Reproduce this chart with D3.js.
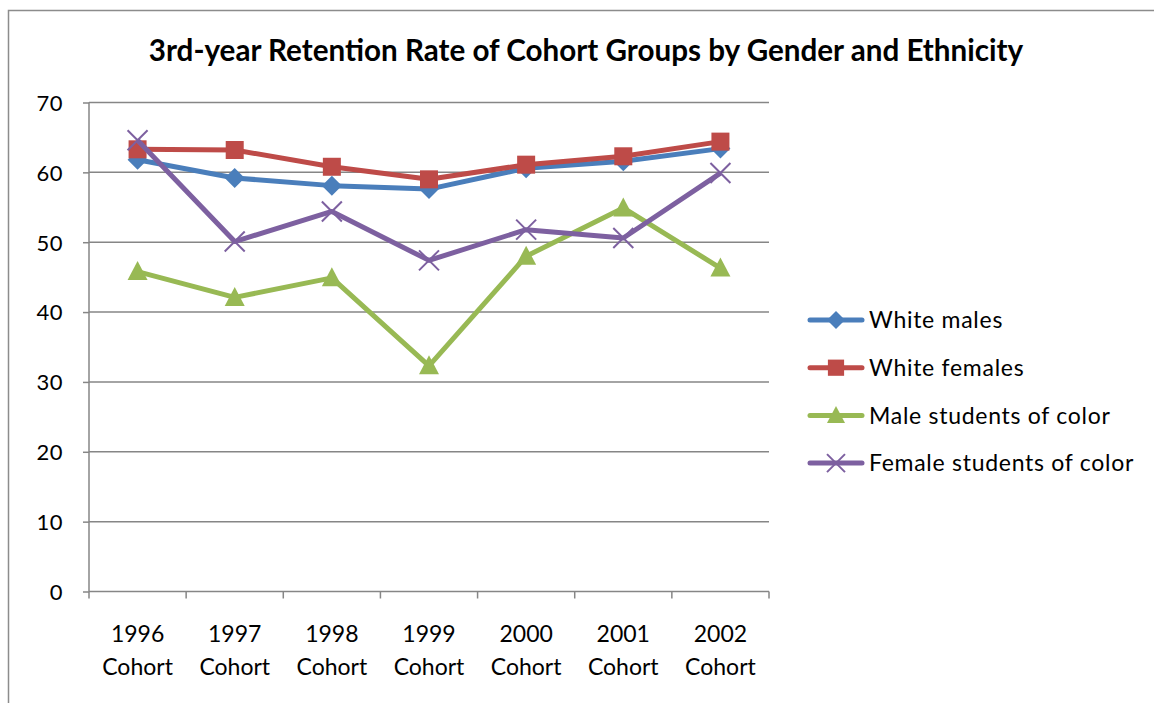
<!DOCTYPE html>
<html>
<head>
<meta charset="utf-8">
<script src="https://cdn.jsdelivr.net/npm/d3@7"></script>
<style>
  body { margin: 0; background: #fff; }
  text { font-family: Lato, "Noto Sans", sans-serif; fill: #000; }
  .grid line { stroke: #868686; stroke-width: 1.5; }
  .axis path, .axis line { stroke: #868686; stroke-width: 1.5; }
</style>
</head>
<body>
<div id="chart"></div>
<script>
// data
const cohorts = ["1996", "1997", "1998", "1999", "2000", "2001", "2002"];
const seriesNames = ["White males", "White females", "Male students of color", "Female students of color"];
const whiteMales = [61.8, 59.2, 58.1, 57.6, 60.6, 61.6, 63.4];
const whiteFemales = [63.3, 63.2, 60.8, 59.0, 61.1, 62.3, 64.4];
const maleColor = [45.8, 42.1, 44.9, 32.3, 48.0, 54.9, 46.3];
const femaleColor = [64.6, 50.1, 54.4, 47.4, 51.8, 50.6, 59.9];
const yTicks = [0, 10, 20, 30, 40, 50, 60, 70];

const colors = ["#4A7EBB", "#BE4B48", "#98B954", "#7D60A0"];
const markers = ["diamond", "square", "triangle", "cross"];
const series = seriesNames.map((name, i) => ({
  name, color: colors[i], marker: markers[i],
  values: [whiteMales, whiteFemales, maleColor, femaleColor][i]
}));

const W = 1154, H = 703;
const plot = {left: 89, right: 769, top: 102.5, bottom: 591.5};

const svg = d3.select("#chart").append("svg")
    .attr("width", W).attr("height", H);

// outer frame (only top and left are visible in the reference)
svg.append("path")
    .attr("d", `M8.5,${H} V10.5 H${W}`)
    .attr("fill", "none").attr("stroke", "#8c8c8c").attr("stroke-width", 1.5);

const title = svg.append("text")
    .attr("x", 586).attr("y", 61)
    .attr("text-anchor", "middle")
    .style("font-weight", "bold")
    .style("font-size", "25px")
    .text("3rd-year Retention Rate of Cohort Groups by Gender and Ethnicity");
// squeeze the title to the width it has in the picture
const tl = title.node().getComputedTextLength();
title.style("font-size", (25 * 875 / tl) + "px");

const x = d3.scaleBand().domain(cohorts).range([plot.left, plot.right]);
const y = d3.scaleLinear().domain([0, 70]).range([plot.bottom, plot.top]);

// gridlines
svg.append("g").attr("class", "grid")
  .selectAll("line").data(yTicks.slice(1)).join("line")
    .attr("x1", plot.left).attr("x2", plot.right)
    .attr("y1", d => y(d)).attr("y2", d => y(d));

// y axis
const yAxis = svg.append("g").attr("class", "axis")
    .attr("transform", `translate(${plot.left},0)`)
    .call(d3.axisLeft(y).tickValues(yTicks).tickSize(6).tickPadding(20));
yAxis.select(".domain").attr("d", `M0,${plot.top}V${plot.bottom}`);
yAxis.selectAll("text").style("font-size", "22px").attr("dy", "0.36em")
    .style("letter-spacing", "0.5px");

// x axis: ticks sit on the category boundaries
const xAxis = svg.append("g").attr("class", "axis")
    .attr("transform", `translate(0,${plot.bottom})`);
xAxis.append("line").attr("x1", plot.left).attr("x2", plot.right);
xAxis.selectAll(".tk").data(d3.range(cohorts.length + 1)).join("line")
    .attr("class", "tk")
    .attr("x1", i => plot.left + i * x.step()).attr("x2", i => plot.left + i * x.step())
    .attr("y1", 0).attr("y2", 7);
const xl = xAxis.selectAll(".lbl").data(cohorts).join("text")
    .attr("class", "lbl")
    .attr("text-anchor", "middle")
    .attr("x", d => x(d) + x.bandwidth() / 2)
    .style("font-size", "23px");
xl.append("tspan").attr("x", d => x(d) + x.bandwidth() / 2).attr("y", 50).text(d => d);
xl.append("tspan").attr("x", d => x(d) + x.bandwidth() / 2).attr("y", 83).text("Cohort");

function drawMarker(g, type, color, s) {
  if (type === "diamond") {
    g.append("path").attr("d", `M0,${-s}L${s},0L0,${s}L${-s},0Z`).attr("fill", color);
  } else if (type === "square") {
    g.append("rect").attr("x", -s * 0.9).attr("y", -s * 0.9)
      .attr("width", s * 1.8).attr("height", s * 1.8).attr("fill", color);
  } else if (type === "triangle") {
    g.append("path").attr("d", `M0,${-s * 1.05}L${s},${s * 0.85}L${-s},${s * 0.85}Z`).attr("fill", color);
  } else {
    g.append("path").attr("d", `M${-s},${-s}L${s},${s}M${-s},${s}L${s},${-s}`)
      .attr("stroke", color).attr("stroke-width", 2).attr("fill", "none");
  }
}

const line = d3.line()
    .x((d, i) => x(cohorts[i]) + x.bandwidth() / 2)
    .y(d => y(d));

series.forEach(s => {
  const g = svg.append("g");
  g.append("path").datum(s.values)
    .attr("d", line)
    .attr("fill", "none")
    .attr("stroke", s.color)
    .attr("stroke-width", 5)
    .attr("stroke-linejoin", "round");
  s.values.forEach((v, i) => {
    const m = g.append("g")
      .attr("transform", `translate(${x(cohorts[i]) + x.bandwidth() / 2},${y(v)})`);
    drawMarker(m, s.marker, s.color, 10);
  });
});

// legend
const legend = svg.append("g").attr("transform", "translate(810,320)");
const legendTexts = [];
series.forEach((s, i) => {
  const row = legend.append("g").attr("transform", `translate(0,${i * 47.7})`);
  row.append("line").attr("x1", 0).attr("x2", 52)
    .attr("stroke", s.color).attr("stroke-width", 5).attr("stroke-linecap", "round");
  const m = row.append("g").attr("transform", "translate(26,0)");
  drawMarker(m, s.marker, s.color, 9);
  legendTexts.push(row.append("text").attr("x", 59).attr("y", 0).attr("dy", "0.36em")
    .style("font-size", "23px").text(s.name));
});
// spread the legend text to the width it has in the picture
const longest = legendTexts[3].node();
const ls = (265 - longest.getComputedTextLength()) / longest.getNumberOfChars();
legendTexts.forEach(t => t.style("letter-spacing", ls + "px"));
</script>
</body>
</html>
